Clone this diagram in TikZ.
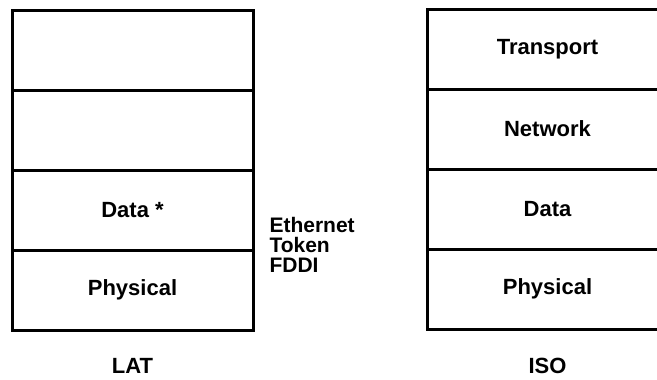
\documentclass[tikz,border=0pt]{standalone}
\usepackage{fontspec}
\setmainfont{Liberation Sans}
\usetikzlibrary{positioning}

\tikzset{
  layer/.style={draw, line width=3pt, minimum width=241pt, minimum height=80pt,
    inner sep=0pt, outer sep=0pt, font=\fontsize{22}{20}\selectfont\bfseries},
  caption/.style={font=\fontsize{22}{20}\selectfont\bfseries}
}

\begin{document}
\begin{tikzpicture}[x=1pt,y=-1pt]
	\useasboundingbox (0,0) rectangle (657,380);

	% LAT Schichten
	\node[layer] (latTop) at (132.5,50) {};
	\node[layer, below=0pt of latTop] (latMid) {};
	\node[layer, below=0pt of latMid] (latData) {Data *};
	\node[layer, below=0pt of latData] (latPhys) {Physical};
	\node[caption] (lat) at (132.5,366) {LAT};

	% ISO Schichten
	\node[layer] (isoTrans) at (547.5,49) {Transport};
	\node[layer, below=0pt of isoTrans] (isoNet) {Network};
	\node[layer, below=0pt of isoNet] (isoData) {Data};
	\node[layer, below=0pt of isoData] (isoPhys) {Physical};
	\node[caption] (iso) at (547.5,366) {ISO};

	% Medien
	\node[caption, font=\fontsize{21}{20}\selectfont\bfseries, anchor=west, align=left]
		(media) at (266,245) {Ethernet\\Token\\FDDI};

\end{tikzpicture}
\end{document}
